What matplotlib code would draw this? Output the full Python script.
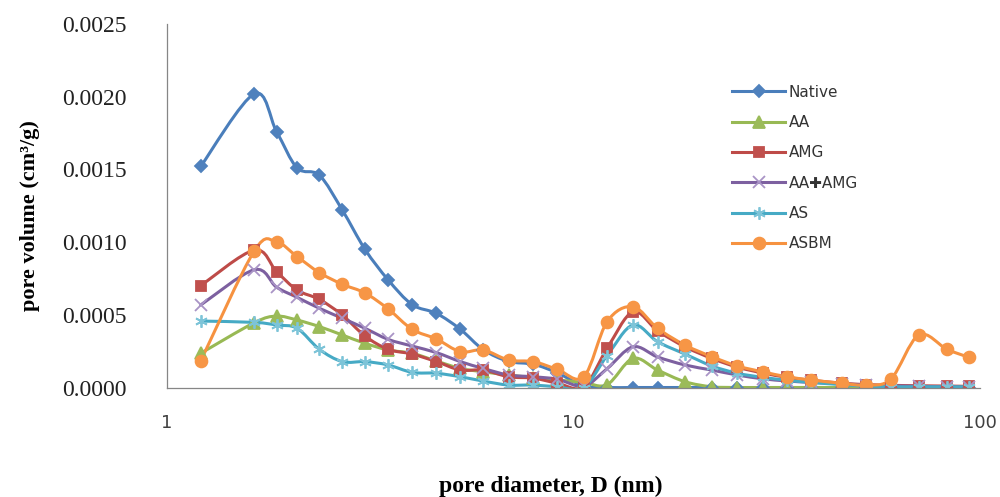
import numpy as np
import matplotlib
matplotlib.use('Agg')
import matplotlib.pyplot as plt
from matplotlib.path import Path
from matplotlib.patches import PathPatch
from matplotlib.lines import Line2D

# pore diameter (nm) and BJH pore volume (cm3/g) for each sample
diameter = [1.21, 1.64, 1.86, 2.09, 2.37, 2.70, 3.07, 3.50, 4.01, 4.60, 5.27,
            6.00, 6.92, 7.97, 9.13, 10.6, 12.1, 14.0, 16.1, 18.8, 21.9, 25.3,
            29.2, 33.5, 38.4, 45.7, 52.4, 60.4, 70.7, 82.9, 94.0]

native = [1.52, 2.02, 1.76, 1.51, 1.46, 1.22, 0.95, 0.74, 0.57, 0.51, 0.40,
          0.26, 0.18, 0.16, 0.10, 0.01, 0.0, 0.0, 0.0, 0.0, 0.0, 0.0,
          0.0, 0.0, 0.0, 0.0, 0.0, 0.0, 0.0, 0.0, 0.0]
aa = [0.235, 0.446, 0.491, 0.464, 0.419, 0.361, 0.304, 0.258, 0.235, 0.182, 0.131,
      0.108, 0.086, 0.068, 0.052, 0.035, 0.020, 0.200, 0.120, 0.040, 0.005, 0.0,
      0.0, 0.0, 0.0, 0.0, 0.0, 0.0, 0.0, 0.0, 0.0]
amg = [0.700, 0.945, 0.797, 0.670, 0.606, 0.498, 0.354, 0.263, 0.230, 0.178, 0.120,
       0.120, 0.074, 0.064, 0.030, 0.005, 0.270, 0.520, 0.390, 0.280, 0.200, 0.140,
       0.100, 0.070, 0.050, 0.030, 0.020, 0.015, 0.012, 0.010, 0.008]
aa_amg = [0.567, 0.810, 0.690, 0.620, 0.545, 0.476, 0.407, 0.331, 0.285, 0.240, 0.178,
          0.131, 0.086, 0.074, 0.057, 0.010, 0.130, 0.280, 0.210, 0.155, 0.120, 0.086,
          0.060, 0.045, 0.035, 0.025, 0.018, 0.012, 0.008, 0.005, 0.003]
as_ = [0.457, 0.448, 0.430, 0.407, 0.263, 0.178, 0.178, 0.155, 0.104, 0.098, 0.074,
       0.044, 0.017, 0.017, 0.005, 0.0, 0.220, 0.430, 0.315, 0.230, 0.148, 0.098,
       0.070, 0.050, 0.035, 0.020, 0.010, 0.005, 0.005, 0.005, 0.005]
asbm = [0.182, 0.940, 1.000, 0.900, 0.790, 0.710, 0.650, 0.540, 0.400, 0.334, 0.246,
        0.258, 0.189, 0.178, 0.125, 0.074, 0.453, 0.556, 0.407, 0.292, 0.212, 0.148,
        0.108, 0.074, 0.052, 0.029, 0.017, 0.059, 0.361, 0.263, 0.207]

labels = ['Native', 'AA', 'AMG', 'AA\u271aAMG', 'AS', 'ASBM']
x_ticks = [1, 10, 100]
y_ticks = [0.0, 0.0005, 0.0010, 0.0015, 0.0020, 0.0025]


def smooth_path(x, y):
    # excel-style smoothed line: catmull-rom bezier in (log x, y) space
    lx = np.log10(np.asarray(x, float))
    y = np.asarray(y, float)
    px = np.concatenate([[lx[0]], lx, [lx[-1]]])
    py = np.concatenate([[y[0]], y, [y[-1]]])
    verts = [(lx[0], y[0])]
    codes = [Path.MOVETO]
    for i in range(1, len(px) - 2):
        c1 = (px[i] + (px[i + 1] - px[i - 1]) / 6, py[i] + (py[i + 1] - py[i - 1]) / 6)
        c2 = (px[i + 1] - (px[i + 2] - px[i]) / 6, py[i + 1] - (py[i + 2] - py[i]) / 6)
        verts += [c1, c2, (px[i + 1], py[i + 1])]
        codes += [Path.CURVE4] * 3
    verts = np.array(verts)
    verts[:, 0] = 10 ** verts[:, 0]
    return Path(verts, codes)


series = [
    # values, line colour, marker, marker colour, marker size
    (native, '#4a7ebb', 'D', '#4f81bd', 6),
    (aa, '#98b954', '^', '#9bbb59', 8),
    (amg, '#be4b48', 's', '#c0504d', 6.5),
    (aa_amg, '#7d60a0', 'x', '#a994c6', 8),
    (as_, '#46aac5', (6, 2, 0), '#7dc4d8', 9),
    (asbm, '#f69240', 'o', '#f79646', 8.5),
]

fig = plt.figure(figsize=(10, 4.97), dpi=100)
ax = fig.add_axes([0.167, 0.2203, 0.813, 0.7314])

handles = []
for (vals, lc, mk, mc, ms), lab in zip(series, labels):
    v = np.array(vals) * 1e-3
    ax.add_patch(PathPatch(smooth_path(diameter, v), facecolor='none',
                           edgecolor=lc, lw=2.2, capstyle='round', joinstyle='round'))
    ax.plot(diameter, v, linestyle='none', marker=mk, ms=ms, color=mc,
            mec=mc, mew=1.3)
    handles.append(Line2D([], [], color=lc, lw=2.2, marker=mk, ms=ms,
                          mfc=mc, mec=mc, mew=1.3))

ax.set_xscale('log')
ax.set_xlim(1, 100)
ax.set_ylim(0, 0.0025)
ax.set_xticks(x_ticks)
ax.set_xticklabels([str(t) for t in x_ticks])
ax.xaxis.set_minor_locator(matplotlib.ticker.NullLocator())
ax.set_yticks(y_ticks)
ax.set_yticklabels(['%.4f' % t for t in y_ticks])

ax.tick_params(axis='x', length=0, pad=19, labelsize=13, labelcolor='#404040')
ax.tick_params(axis='y', length=0, pad=29, labelsize=17, labelcolor='#222222')
for t in ax.get_xticklabels():
    t.set_fontfamily('DejaVu Sans')
for t in ax.get_yticklabels():
    t.set_fontfamily('Liberation Serif')

for side in ['top', 'right']:
    ax.spines[side].set_visible(False)
for side in ['left', 'bottom']:
    ax.spines[side].set_color('#868686')
    ax.spines[side].set_linewidth(0.9)

leg = ax.legend(handles, labels, loc='center left',
                bbox_to_anchor=(0.732, 0.662), bbox_transform=fig.transFigure,
                frameon=False, borderpad=0, borderaxespad=0,
                handlelength=3.5, handletextpad=0.2, labelspacing=1.0,
                prop={'family': 'DejaVu Sans', 'size': 11})
for t in leg.get_texts():
    t.set_color('#333333')

fig.text(0.551, 0.022, 'pore diameter, D (nm)', ha='center', va='center',
         fontsize=17, fontweight='bold', family='Liberation Serif')
fig.text(0.030, 0.567, 'pore volume (cm\u00b3/g)', ha='center', va='center',
         rotation=90, fontsize=16, fontweight='bold', family='Liberation Serif')

fig.savefig('out.png', dpi=100)
